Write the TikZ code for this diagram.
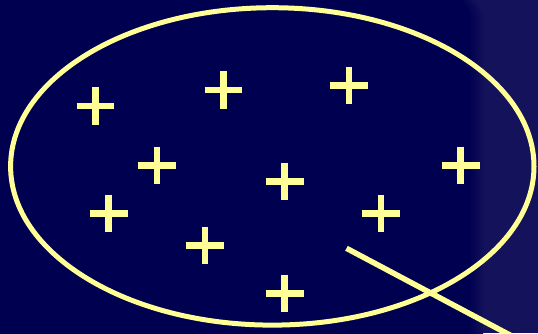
\documentclass[tikz,border=0pt]{standalone}
\usetikzlibrary{shapes.geometric}
\definecolor{NightBlue}{RGB}{0,0,80}
\definecolor{DuskBlue}{RGB}{20,18,90}
\definecolor{PaleYellow}{RGB}{255,255,150}
\begin{document}
\begin{tikzpicture}[x=1pt,y=-1pt,
  charge/.style={PaleYellow,line width=6.5pt},
  rim/.style={draw=PaleYellow,line width=5pt,ellipse,inner sep=0pt}]
\useasboundingbox (0,0) rectangle (538,333);
\clip (0,0) rectangle (538,333);
% backdrop, soft edge on the right
\fill[DuskBlue] (0,0) rectangle (538,333);
\foreach \e/\m in {483/20,480/40,477/60,474/80,471/100}
  \fill[NightBlue!\m!DuskBlue,rounded corners=26pt] (-30,-6) rectangle (\e,360);
% the set
\node[rim,minimum width=523.4pt,minimum height=317.4pt] (set) at (272.3,166.4) {};
% positive charges
\foreach \x/\y in {95.4/106,223.3/90,348.9/85.3,156.8/165.3,284.7/181.3,
                   460.7/165.3,108.7/213.3,380.8/213.3,204.8/245.3,284.7/293.3}
  \draw[charge] (\x-18.8,\y) -- (\x+18.8,\y) (\x,\y-18.7) -- (\x,\y+18.7);
% pointer
\coordinate (tail) at (346.5,248.3);
\coordinate (tip) at (540,351);
\draw[PaleYellow,line width=5.5pt] (tail) -- (tip);
\end{tikzpicture}
\end{document}
